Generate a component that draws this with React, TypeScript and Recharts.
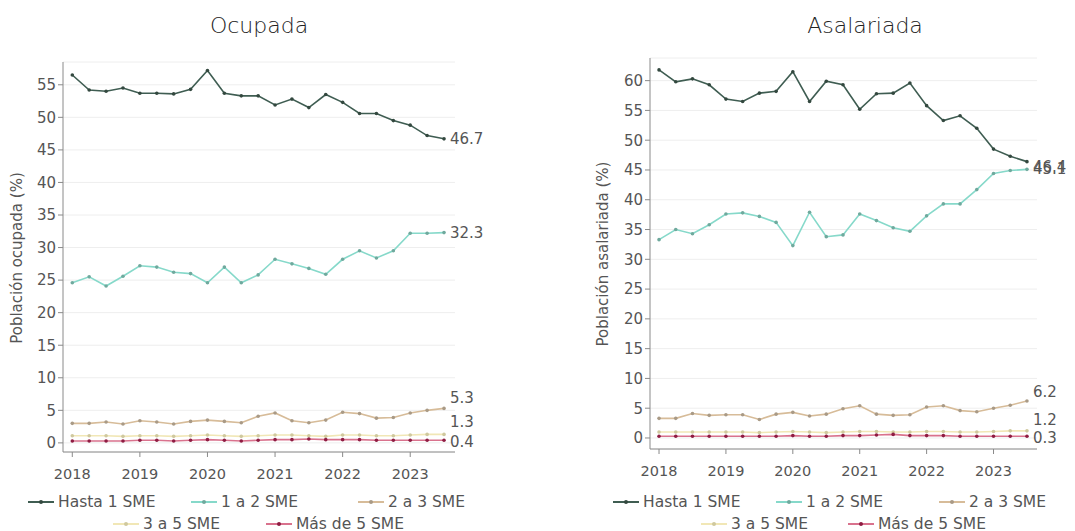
import React from 'react';
import { LineChart, Line, XAxis, YAxis, CartesianGrid } from 'recharts';

// quarterly points, 2018 T1 .. 2023 T3
const quarters = [
  '2018T1', '2018T2', '2018T3', '2018T4',
  '2019T1', '2019T2', '2019T3', '2019T4',
  '2020T1', '2020T2', '2020T3', '2020T4',
  '2021T1', '2021T2', '2021T3', '2021T4',
  '2022T1', '2022T2', '2022T3', '2022T4',
  '2023T1', '2023T2', '2023T3',
];
const yearTickIndex = [0, 4, 8, 12, 16, 20];
const yearLabels = ['2018', '2019', '2020', '2021', '2022', '2023'];
const seriesNames = ['Hasta 1 SME', '1 a 2 SME', '2 a 3 SME', '3 a 5 SME', 'Más de 5 SME'];

// Población ocupada (%)
const ocupadaHasta1 = [56.5, 54.2, 54.0, 54.5, 53.7, 53.7, 53.6, 54.3, 57.2, 53.7, 53.3, 53.3, 51.9, 52.8, 51.5, 53.5, 52.3, 50.6, 50.6, 49.5, 48.8, 47.2, 46.7];
const ocupada1a2 = [24.6, 25.5, 24.1, 25.6, 27.2, 27.0, 26.2, 26.0, 24.6, 27.0, 24.6, 25.8, 28.2, 27.5, 26.8, 25.9, 28.2, 29.5, 28.4, 29.5, 32.2, 32.2, 32.3];
const ocupada2a3 = [3.0, 3.0, 3.2, 2.9, 3.4, 3.2, 2.9, 3.3, 3.5, 3.3, 3.1, 4.1, 4.6, 3.4, 3.1, 3.5, 4.7, 4.5, 3.8, 3.9, 4.6, 5.0, 5.3];
const ocupada3a5 = [1.1, 1.1, 1.1, 1.0, 1.1, 1.1, 1.0, 1.1, 1.2, 1.1, 1.0, 1.1, 1.2, 1.2, 1.1, 1.0, 1.2, 1.2, 1.1, 1.1, 1.2, 1.3, 1.3];
const ocupadaMas5 = [0.3, 0.3, 0.3, 0.3, 0.4, 0.4, 0.3, 0.4, 0.5, 0.4, 0.3, 0.4, 0.5, 0.5, 0.6, 0.5, 0.5, 0.5, 0.4, 0.4, 0.4, 0.4, 0.4];

// Población asalariada (%)
const asalariadaHasta1 = [61.8, 59.8, 60.3, 59.3, 56.9, 56.5, 57.9, 58.2, 61.5, 56.5, 59.9, 59.3, 55.2, 57.8, 57.9, 59.6, 55.8, 53.3, 54.1, 52.0, 48.5, 47.3, 46.4];
const asalariada1a2 = [33.3, 35.0, 34.3, 35.8, 37.6, 37.8, 37.2, 36.2, 32.3, 37.9, 33.8, 34.1, 37.6, 36.5, 35.3, 34.7, 37.3, 39.3, 39.3, 41.7, 44.4, 44.9, 45.1];
const asalariada2a3 = [3.3, 3.3, 4.1, 3.8, 3.9, 3.9, 3.1, 4.0, 4.3, 3.7, 4.0, 4.9, 5.4, 4.0, 3.8, 3.9, 5.2, 5.4, 4.6, 4.4, 5.0, 5.5, 6.2];
const asalariada3a5 = [1.0, 1.0, 1.0, 1.0, 1.0, 1.0, 0.9, 1.0, 1.1, 1.0, 0.9, 1.0, 1.1, 1.1, 1.0, 1.0, 1.1, 1.1, 1.0, 1.0, 1.1, 1.2, 1.2];
const asalariadaMas5 = [0.3, 0.3, 0.3, 0.3, 0.3, 0.3, 0.3, 0.3, 0.4, 0.3, 0.3, 0.4, 0.4, 0.5, 0.6, 0.4, 0.4, 0.4, 0.3, 0.3, 0.3, 0.3, 0.3];

const yTicks = [0, 5, 10, 15, 20, 25, 30, 35, 40, 45, 50, 55, 60];

const FONT = '"DejaVu Sans", sans-serif';
const TEXT = '#555';
const AXIS = '#8a8a8a';
const LINE_COLORS = ['#3f5d52', '#86d9ca', '#d7bc99', '#f1e7b6', '#d9728d'];
const DOT_COLORS = ['#33483f', '#6fa99d', '#a99a86', '#cfc89e', '#8e1c42'];

const buildRows = (series: number[][]) =>
  quarters.map((q, i) => {
    const row: Record<string, number | string> = { t: i, q };
    series.forEach((s, k) => (row['s' + k] = s[i]));
    return row;
  });

const LegendMark = ({ color, dot }: { color: string; dot: string }) => (
  <svg width={28} height={10} style={{ display: 'block' }}>
    <line x1={1} y1={5} x2={27} y2={5} stroke={color} strokeWidth={2} />
    <circle cx={14} cy={5} r={2} fill={dot} />
  </svg>
);

type PanelProps = {
  left: number;
  width: number;
  title: string;
  titleX: number;
  yLabel: string;
  yLabelX: number;
  yLabelY: number;
  series: number[][];
  yDomain: [number, number];
  xDomain: [number, number];
  yMax: number;
  margin: { top: number; right: number; bottom: number; left: number };
  labelDy: number[];
  legendPos: { x: number; y: number }[];
};

const Panel = (p: PanelProps) => {
  const rows = buildRows(p.series);
  const last = quarters.length - 1;
  return (
    <div style={{ position: 'absolute', left: p.left, top: 0, width: p.width, height: 531 }}>
      <div
        style={{
          position: 'absolute', left: p.titleX - 100, width: 200, top: 13, textAlign: 'center',
          fontFamily: FONT, fontSize: 22, color: '#222', fontWeight: 300,
        }}
      >
        {p.title}
      </div>
      <div
        style={{
          position: 'absolute', left: p.yLabelX - 150, top: p.yLabelY - 10, width: 300, height: 20,
          textAlign: 'center', fontFamily: FONT, fontSize: 15, color: TEXT,
          transform: 'rotate(-90deg)', transformOrigin: '150px 10px', lineHeight: '20px',
        }}
      >
        {p.yLabel}
      </div>
      <LineChart width={p.width} height={531} data={rows} margin={p.margin}>
        <CartesianGrid vertical={false} stroke="#eeeeee" />
        <XAxis
          dataKey="t"
          type="number"
          domain={p.xDomain}
          ticks={yearTickIndex}
          tickFormatter={(v: number) => yearLabels[yearTickIndex.indexOf(v)] ?? ''}
          allowDataOverflow
          height={36}
          stroke={AXIS}
          tickSize={5}
          tickMargin={12}
          tick={{ fill: TEXT, fontSize: 14.5, fontFamily: FONT }}
        />
        <YAxis
          type="number"
          domain={p.yDomain}
          ticks={yTicks.filter((v) => v <= p.yMax)}
          allowDataOverflow
          width={40}
          stroke={AXIS}
          tickSize={5}
          interval={0}
          tick={{ fill: TEXT, fontSize: 15, fontFamily: FONT }}
        />
        {p.series.map((_, k) => (
          <Line
            key={k}
            dataKey={'s' + k}
            stroke={LINE_COLORS[k]}
            strokeWidth={1.6}
            dot={{ r: 1.8, fill: DOT_COLORS[k], stroke: 'none' }}
            isAnimationActive={false}
            label={(lp: any) =>
              lp.index === last ? (
                <text
                  key={'lbl' + k}
                  x={lp.x + 6}
                  y={lp.y + p.labelDy[k]}
                  dy={5}
                  fill={TEXT}
                  fontSize={15}
                  fontFamily={FONT}
                >
                  {Number(lp.value).toFixed(1)}
                </text>
              ) : (
                <g key={'lbl' + k + '-' + lp.index} />
              )
            }
          />
        ))}
      </LineChart>
      {seriesNames.map((name, k) => (
        <div
          key={name}
          style={{
            position: 'absolute', left: p.legendPos[k].x, top: p.legendPos[k].y - 10, height: 20,
            display: 'flex', alignItems: 'center', gap: 3, fontFamily: FONT, fontSize: 15.5, color: TEXT,
            whiteSpace: 'nowrap',
          }}
        >
          <LegendMark color={LINE_COLORS[k]} dot={DOT_COLORS[k]} />
          <span>{name}</span>
        </div>
      ))}
    </div>
  );
};

export default function App() {
  return (
    <div style={{ position: 'absolute', left: 0, top: 0, width: 1075, height: 531, background: '#fff' }}>
      <Panel
        left={0}
        width={530}
        title="Ocupada"
        titleX={259}
        yLabel="Población ocupada (%)"
        yLabelX={17}
        yLabelY={258}
        series={[ocupadaHasta1, ocupada1a2, ocupada2a3, ocupada3a5, ocupadaMas5]}
        yDomain={[-1.4, 58.5]}
        xDomain={[-0.55, 22.65]}
        yMax={55}
        margin={{ top: 62, right: 75, bottom: 43, left: 23 }}
        labelDy={[0, 0, -10, -12, 2]}
        legendPos={[
          { x: 27, y: 502 }, { x: 190, y: 502 }, { x: 357, y: 502 },
          { x: 112, y: 524 }, { x: 265, y: 524 },
        ]}
      />
      <Panel
        left={540}
        width={535}
        title="Asalariada"
        titleX={325}
        yLabel="Población asalariada (%)"
        yLabelX={63}
        yLabelY={254}
        series={[asalariadaHasta1, asalariada1a2, asalariada2a3, asalariada3a5, asalariadaMas5]}
        yDomain={[-1.85, 63.8]}
        xDomain={[-0.54, 22.6]}
        yMax={60}
        margin={{ top: 58, right: 38, bottom: 46, left: 70 }}
        labelDy={[5, 0, -9, -11, 2]}
        legendPos={[
          { x: 72, y: 502 }, { x: 235, y: 502 }, { x: 398, y: 502 },
          { x: 160, y: 524 }, { x: 307, y: 524 },
        ]}
      />
    </div>
  );
}
